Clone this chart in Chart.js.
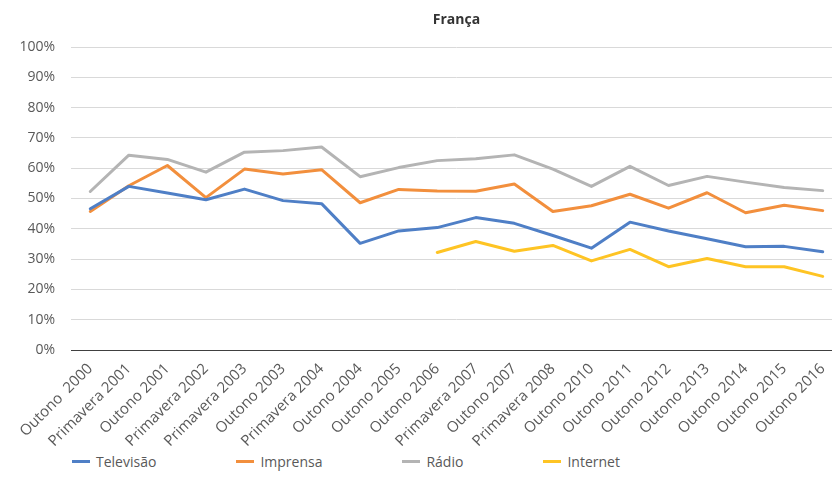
<!DOCTYPE html>
<html>
<head>
<meta charset="utf-8">
<script src="https://cdn.jsdelivr.net/npm/chart.js@4"></script>
<style>
  body { margin: 0; overflow: hidden; background: #fff; font-family: "Open Sans", sans-serif; }
  #wrap { position: relative; width: 850px; height: 450px; }
  #legend { display: flex; padding-left: 72px; margin-top: 2px; color: #595959; font-size: 14px; }
  #legend span.item { display: flex; align-items: center; margin-right: 80px; }
  #legend span.swatch { width: 18px; height: 3px; margin-right: 6px; }
</style>
</head>
<body>
<div id="wrap"><canvas id="myChart" width="850" height="450"></canvas></div>
<div id="legend"></div>
<script>
const labels = [
  "Outono  2000", "Primavera 2001", "Outono 2001", "Primavera 2002", "Primavera 2003",
  "Outono 2003", "Primavera 2004", "Outono 2004", "Outono 2005", "Outono 2006",
  "Primavera 2007", "Outono 2007", "Primavera 2008", "Outono 2010", "Outono 2011",
  "Outono 2012", "Outono 2013", "Outono 2014", "Outono 2015", "Outono 2016",
];

const televisao = [46.6, 54, 51.8, 49.6, 53.1, 49.3, 48.3, 35.2, 39.3, 40.4, 43.7, 41.8, 37.8, 33.6, 42.2, 39.3, 36.7, 34.1, 34.2, 32.4];
const imprensa = [45.7, 54.2, 60.9, 50.3, 59.7, 58.1, 59.5, 48.6, 53, 52.5, 52.4, 54.8, 45.7, 47.6, 51.4, 46.8, 51.9, 45.3, 47.8, 46];
const radio = [52.3, 64.3, 62.9, 58.7, 65.3, 65.8, 67, 57.2, 60.2, 62.5, 63.1, 64.4, 59.7, 54, 60.6, 54.3, 57.3, 55.4, 53.6, 52.6];
const internet = [null, null, null, null, null, null, null, null, null, 32.2, 35.8, 32.6, 34.5, 29.4, 33.2, 27.5, 30.2, 27.5, 27.5, 24.3];

const yTicks = [0, 10, 20, 30, 40, 50, 60, 70, 80, 90, 100];

function makeLine(label, data, color) {
  return {
    label: label,
    data: data,
    borderColor: color,
    backgroundColor: color,
    borderWidth: 3,
    pointRadius: 0,
    tension: 0,
    fill: false,
    borderCapStyle: "round",
    borderJoinStyle: "round",
  };
}

const datasets = [
  makeLine("Televisão", televisao, "#4f7fc6"),
  makeLine("Imprensa", imprensa, "#f28f3d"),
  makeLine("Rádio", radio, "#b4b4b4"),
  makeLine("Internet", internet, "#fec424"),
];

// title centred over the plot area, like the original
const plotTitle = {
  id: "plotTitle",
  afterDraw(chart) {
    const { ctx, chartArea } = chart;
    ctx.save();
    ctx.font = "bold 14px 'Open Sans'";
    ctx.fillStyle = "#333333";
    ctx.textAlign = "center";
    ctx.textBaseline = "middle";
    ctx.fillText("França", (chartArea.left + chartArea.right) / 2, 20);
    ctx.restore();
  },
};

Chart.defaults.font.family = "'Open Sans', sans-serif";
Chart.defaults.font.size = 14;
Chart.defaults.color = "#595959";

const ctx = document.getElementById("myChart").getContext("2d");
const chart = new Chart(ctx, {
  type: "line",
  data: { labels: labels, datasets: datasets },
  options: {
    responsive: false,
    animation: false,
    layout: { padding: { top: 47, right: 8, left: 0, bottom: 0 } },
    plugins: {
      legend: { display: false },
      title: { display: false },
      tooltip: { enabled: false },
    },
    scales: {
      x: {
        offset: true,
        grid: { color: "transparent", drawTicks: false },
        border: { display: true, color: "#404040", width: 1 },
        ticks: { minRotation: 45, maxRotation: 45, padding: 10, autoSkip: false, font: { size: 15 } },
        afterFit: (scale) => { scale.height = 100; },
      },
      y: {
        min: 0,
        max: 100,
        afterBuildTicks: (scale) => { scale.ticks = yTicks.map((v) => ({ value: v })); },
        grid: {
          drawTicks: false,
          color: (c) => (c.tick && c.tick.value === 0 ? "#404040" : "#d9d9d9"),
        },
        border: { display: false },
        ticks: { padding: 16, callback: (v) => v + "%" },
        afterFit: (scale) => { scale.width = 71; },
      },
    },
  },
  plugins: [plotTitle],
});

// legend built from the datasets
const legend = document.getElementById("legend");
chart.data.datasets.forEach((ds) => {
  const item = document.createElement("span");
  item.className = "item";
  item.innerHTML = '<span class="swatch" style="background:' + ds.borderColor + '"></span>' + ds.label;
  legend.appendChild(item);
});
</script>
</body>
</html>
